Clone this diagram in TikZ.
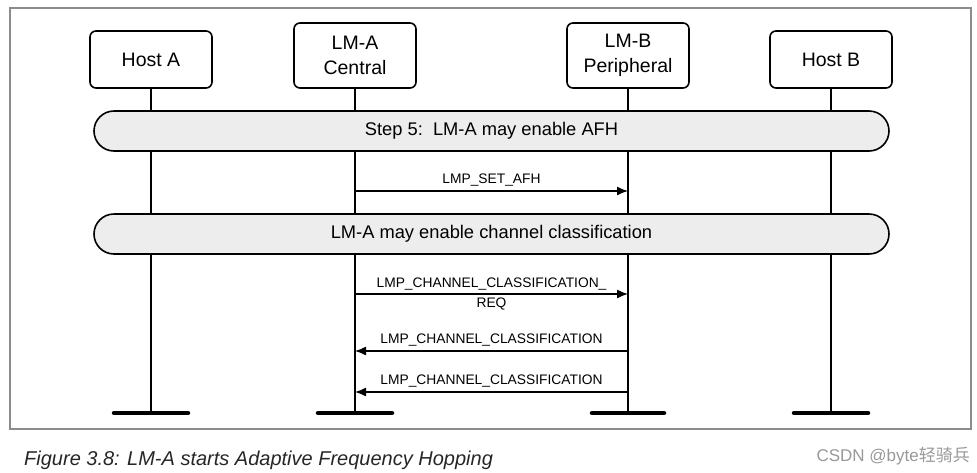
\documentclass[tikz,border=0pt]{standalone}
\usepackage{fontspec}
\setmainfont{Liberation Sans}
\newfontfamily\cjk{Noto Sans CJK SC}
\usepackage{tikz}
\usetikzlibrary{arrows.meta}

\begin{document}
\begin{tikzpicture}[x=1pt,y=-1pt,
  entity/.style={draw,line width=1.6pt,rounded corners=6pt,fill=white,minimum width=122pt,inner sep=0pt,align=center,font=\fontsize{19.5}{25}\selectfont},
  phase/.style={draw,line width=1.6pt,rounded corners=20pt,fill=black!7,minimum width=795pt,minimum height=40pt,inner sep=0pt,font=\fontsize{18.3}{22}\selectfont},
  lifeline/.style={line width=1.6pt},
  endbar/.style={line width=4.5pt,line cap=round},
  msg/.style={font=\fontsize{13.8}{18}\selectfont,align=center,inner sep=0pt},
  >={Latex[length=11pt,width=9pt]}]
\useasboundingbox (0,0) rectangle (977,472);
\draw[black!45,line width=1.2pt] (10,8) rectangle (971,429);

\node[entity,minimum height=57pt] (hostA) at (151,59.5) {Host A};
\node[entity,minimum height=65pt] (lmA) at  (355,55.5) {LM-A\\Central};
\node[entity,minimum height=65pt] (lmB) at  (628,55.5) {LM-B\\Peripheral};
\node[entity,minimum height=57pt] (hostB) at  (831,59.5) {Host B};

\coordinate (hostAend) at (151,413);
\coordinate (lmAend) at (355,413);
\coordinate (lmBend) at (628,413);
\coordinate (hostBend) at (831,413);

\draw[lifeline] (hostA) -- (hostAend);
\draw[lifeline] (lmA) -- (lmAend);
\draw[lifeline] (lmB) -- (lmBend);
\draw[lifeline] (hostB) -- (hostBend);

\draw[endbar] (hostAend) ++(-37,0) -- ++(74,0);
\draw[endbar] (lmAend) ++(-37,0) -- ++(74,0);
\draw[endbar] (lmBend) ++(-36,0) -- ++(72,0);
\draw[endbar] (hostBend) ++(-37,0) -- ++(74,0);

\node[phase] (stepfive) at (491.5,131) {Step 5:\ \ LM-A may enable AFH};
\node[phase] (chanclass) at (491.5,234) {LM-A may enable channel classification};

\coordinate (setA) at (355,191);
\coordinate (setB) at (628,191);
\coordinate (reqA) at (355,294);
\coordinate (reqB) at (628,294);
\coordinate (clsA) at (355,351);
\coordinate (clsB) at (628,351);
\coordinate (clstwoA) at (355,392);
\coordinate (clstwoB) at (628,392);

\draw[->,line width=1.3pt] (setA) to node[msg,above=4pt]{LMP\_SET\_AFH} (setB);
\draw[->,line width=1.3pt] (reqA) to node[msg,above=3pt]{LMP\_CHANNEL\_CLASSIFICATION\_} node[msg,below=3pt]{REQ} (reqB);
\draw[->,line width=1.3pt] (clsB) to node[msg,above=4pt]{LMP\_CHANNEL\_CLASSIFICATION} (clsA);
\draw[->,line width=1.3pt] (clstwoB) to node[msg,above=4pt]{LMP\_CHANNEL\_CLASSIFICATION} (clstwoA);

\node[anchor=base west,font=\fontsize{20}{22}\selectfont\itshape,text=black!85,inner sep=0pt] (caption) at (24,465) {Figure 3.8: LM-A starts Adaptive Frequency Hopping};
\node[anchor=base east,font=\fontsize{17}{20}\selectfont,text=black!40,inner sep=0pt] (mark) at (970,461) {CSDN @byte{\cjk 轻骑兵}};
\end{tikzpicture}
\end{document}
